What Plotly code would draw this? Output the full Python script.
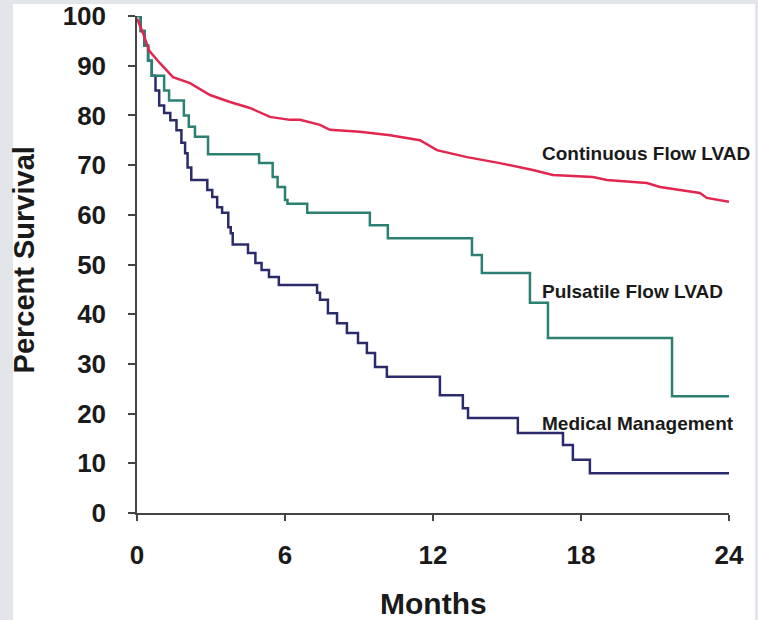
import plotly.graph_objects as go

# Continuous Flow LVAD
cf_months = [0, 0.24, 0.5, 0.93, 1.46, 2.15, 2.96, 3.77, 4.58, 5.39, 6.2, 6.61, 7.42, 7.82,
             9.04, 10.26, 11.47, 12.16, 13.38, 14.71, 16.05, 16.86, 18.48, 19.05, 20.67,
             21.2, 22.82, 23.1, 24]
cf_surv = [99.5, 96.6, 93.0, 90.5, 87.7, 86.5, 84.1, 82.7, 81.5, 79.7, 79.1, 79.1, 78.1, 77.1,
           76.7, 76.0, 75.0, 73.0, 71.6, 70.4, 69.0, 68.0, 67.6, 67.0, 66.4,
           65.6, 64.4, 63.4, 62.6]

# Pulsatile Flow LVAD
pf_months = [0, 0.15, 0.3, 0.45, 0.6, 1.1, 1.3, 1.9, 2.1, 2.35, 2.88, 4.95, 5.5, 5.7, 6.0,
             6.1, 6.9, 9.44, 10.17, 13.58, 13.98, 15.93, 16.66, 21.69, 24]
pf_surv = [100, 97, 94, 91, 88, 85, 83, 80, 77.7, 75.7, 72.2, 70.4, 67.6, 65.6, 63,
           62.2, 60.4, 57.9, 55.3, 51.9, 48.3, 42.3, 35.2, 23.5, 23.5]

# Medical Management
mm_months = [0, 0.15, 0.3, 0.45, 0.6, 0.75, 0.9, 1.1, 1.35, 1.6, 1.8, 1.95, 2.05, 2.2, 2.85,
             3.05, 3.25, 3.45, 3.7, 3.8, 3.88, 4.5, 4.8, 5.05, 5.35, 5.75, 7.3, 7.42, 7.74,
             8.11, 8.51, 8.96, 9.32, 9.65, 10.13, 12.28, 13.21, 13.42, 15.44, 17.27, 17.67,
             18.36, 24]
mm_surv = [100, 97, 94, 91, 88, 85, 82, 80.5, 79, 77, 74.5, 72.4, 69.5, 67, 65,
           63.6, 61.5, 60.4, 57.5, 56.3, 54, 52.3, 50.3, 48.9, 47.5, 45.9, 44.3, 42.9, 40.2,
           38.2, 36.2, 34.2, 32.2, 29.4, 27.4, 23.7, 21.1, 19.1, 16.1, 13.7, 10.7,
           8.0, 8.0]

x_ticks = [0, 6, 12, 18, 24]
y_ticks = [0, 10, 20, 30, 40, 50, 60, 70, 80, 90, 100]

labels = ["Continuous Flow LVAD", "Pulsatile Flow LVAD", "Medical Management"]
label_x = [16.34, 16.34, 16.34]
label_y = [72.4, 44.5, 18.1]

FONT = "Liberation Sans, Arial, sans-serif"

fig = go.Figure()
fig.add_trace(go.Scatter(x=mm_months, y=mm_surv, mode="lines", line_shape="hv",
                         line=dict(color="#2b2b6b", width=2.5), showlegend=False))
fig.add_trace(go.Scatter(x=pf_months, y=pf_surv, mode="lines", line_shape="hv",
                         line=dict(color="#2b8071", width=2.5), showlegend=False))
fig.add_trace(go.Scatter(x=cf_months, y=cf_surv, mode="lines",
                         line=dict(color="#e2264f", width=2.5), showlegend=False))

for t, lx, ly in zip(labels, label_x, label_y):
    fig.add_annotation(x=lx, y=ly, xref="x", yref="y", text=t, showarrow=False,
                       xanchor="left", yanchor="middle",
                       font=dict(family=FONT, size=19, color="#1a1a1a", weight="bold"))

fig.add_annotation(x=0.5, y=-0.183, xref="paper", yref="paper", text="Months",
                   showarrow=False, xanchor="center", yanchor="middle",
                   font=dict(family=FONT, size=30, color="#1a1a1a", weight="bold"))
fig.add_annotation(x=-0.191, y=0.51, xref="paper", yref="paper", text="Percent Survival",
                   showarrow=False, xanchor="center", yanchor="middle", textangle=-90,
                   font=dict(family=FONT, size=29, color="#1a1a1a", weight="bold"))

fig.add_shape(type="rect", xref="paper", yref="paper", x0=-0.2095, x1=1.044,
              y0=-0.2153, y1=1.0241, fillcolor="white", line=dict(width=0), layer="below")

axis_common = dict(showgrid=False, zeroline=False, showline=True, linecolor="#444444",
                   linewidth=1.5, ticks="outside", tickcolor="#444444", tickwidth=1.5,
                   automargin=False,
                   tickfont=dict(family=FONT, size=26, color="#1a1a1a", weight="bold"))

fig.update_xaxes(range=[0, 24], tickvals=x_ticks, ticklen=6, ticklabelstandoff=12,
                 **axis_common)
fig.update_yaxes(range=[0, 100], tickvals=y_ticks, ticklen=7, ticklabelstandoff=17,
                 **axis_common)

fig.update_layout(width=758, height=620, margin=dict(l=137, r=29, t=16, b=107),
                  paper_bgcolor="#e2e6ea", plot_bgcolor="rgba(0,0,0,0)")

fig.write_html("out.html", config={"displayModeBar": False},
               post_script="document.body.style.margin='0';document.body.style.padding='0';")
